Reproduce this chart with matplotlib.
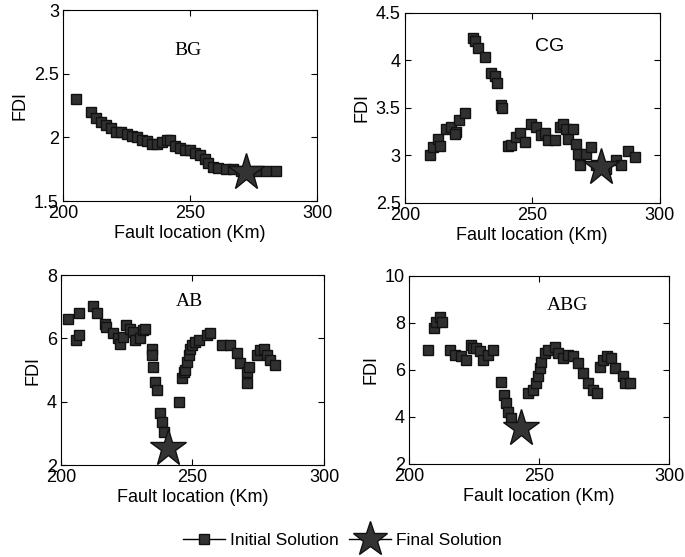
import matplotlib.pyplot as plt
from matplotlib.lines import Line2D

# BG fault
bg_x = [205, 211, 213, 215, 217, 219, 221, 223, 225, 227, 229, 231, 233, 235, 237,
        239, 241, 242, 244, 246, 248, 250, 252, 254, 256, 257, 259, 261, 264, 267,
        270, 273, 276, 280, 284]
bg_y = [2.30, 2.20, 2.15, 2.12, 2.10, 2.07, 2.04, 2.04, 2.03, 2.01, 2.00, 1.98, 1.97,
        1.95, 1.95, 1.96, 1.98, 1.98, 1.93, 1.92, 1.90, 1.90, 1.88, 1.86, 1.83, 1.80,
        1.77, 1.76, 1.75, 1.75, 1.74, 1.73, 1.74, 1.74, 1.74]
bg_star = (272, 1.73)

# CG fault
cg_x = [209.8, 211, 213, 213.7, 216.3, 218.3, 220, 221.4, 223.5, 219.6,
        226.8, 227.5, 228.8, 231.4, 234, 235.3, 236.2, 237.9, 238.2,
        240.5, 241.8, 243.8, 245, 247, 249.7, 251.6, 253.6, 254.9, 256.2, 258.8,
        260.8, 262.1, 263.4, 264, 266, 267.3, 268, 268.6, 271.2, 273, 275, 279.1,
        283, 285, 287.6, 290.2]
cg_y = [3.00, 3.09, 3.17, 3.10, 3.28, 3.30, 3.25, 3.37, 3.44, 3.22,
        4.24, 4.20, 4.13, 4.03, 3.87, 3.83, 3.76, 3.53, 3.50,
        3.10, 3.11, 3.19, 3.23, 3.14, 3.33, 3.30, 3.21, 3.23, 3.16, 3.16,
        3.30, 3.33, 3.28, 3.17, 3.28, 3.12, 3.01, 2.90, 3.01, 3.09, 2.90, 2.86,
        2.95, 2.90, 3.04, 2.98]
cg_star = (277.1, 2.88)

# AB fault
ab_x = [202.8, 206.9, 205.8, 207, 212.3, 213.6, 216.7, 217.3, 219.9, 221.8, 222.4,
        223.7, 224.9, 226.2, 227.5, 228, 230, 231.3, 231.9, 234.5, 234.5, 235.1,
        235.7, 236.4, 237.6, 238.3, 239.2, 244.7, 246, 246.6, 247.3, 247.9, 248.6,
        249.2, 249.8, 251.1, 252.4, 255.4, 256.7, 261.1, 264.4, 266.8, 268.1, 270.6,
        270.6, 271.3, 274.4, 275.7, 277, 278.3, 279.5, 281.4]
ab_y = [6.63, 6.79, 5.95, 6.10, 7.02, 6.79, 6.47, 6.37, 6.16, 6.00, 5.84,
        6.05, 6.42, 6.30, 6.20, 5.95, 6.00, 6.26, 6.30, 5.68, 5.47, 5.10,
        4.63, 4.37, 3.63, 3.37, 3.05, 4.00, 4.74, 4.95, 5.00, 5.26, 5.47,
        5.68, 5.79, 5.90, 5.95, 6.10, 6.16, 5.79, 5.79, 5.53, 5.21, 4.95,
        4.58, 5.10, 5.47, 5.63, 5.68, 5.47, 5.31, 5.16]
ab_star = (240.8, 2.53)

# ABG fault
abg_x = [207.3, 209.5, 210.5, 211.8, 212.8, 215.6, 217.6, 220.1, 222, 224, 224.6,
         225.9, 227.2, 228.5, 230.4, 232.3, 235.5, 236.7, 237.4, 238, 239.3, 245.8,
         247.7, 249, 249.6, 250.3, 250.9, 252.2, 253.5, 256, 257.4, 259.2, 261.2,
         263.1, 265, 267, 268.9, 270.8, 272.1, 273.3, 274.6, 275.9, 277.8, 279.1,
         282.3, 282.9, 284.9]
abg_y = [6.85, 7.77, 8.05, 8.26, 8.05, 6.85, 6.64, 6.57, 6.42, 7.06, 6.92,
         6.92, 6.78, 6.42, 6.64, 6.85, 5.50, 4.94, 4.59, 4.23, 3.95, 5.00,
         5.15, 5.43, 5.72, 6.07, 6.35, 6.71, 6.85, 6.96, 6.71, 6.50, 6.64,
         6.57, 6.28, 5.86, 5.43, 5.15, 5.00, 6.14, 6.43, 6.57, 6.50, 6.07,
         5.72, 5.43, 5.43]
abg_star = (242.9, 3.53)

panels = [
    ('BG', bg_x, bg_y, bg_star, (1.5, 3), [1.5, 2, 2.5, 3], ['1.5', '2', '2.5', '3'],
     [0.092, 0.639, 0.371, 0.343], (0.49, 0.79), 'Liberation Serif'),
    ('CG', cg_x, cg_y, cg_star, (2.5, 4.5), [2.5, 3, 3.5, 4, 4.5], ['2.5', '3', '3.5', '4', '4.5'],
     [0.591, 0.636, 0.372, 0.341], (0.57, 0.82), 'Liberation Sans'),
    ('AB', ab_x, ab_y, ab_star, (2, 8), [2, 4, 6, 8], ['2', '4', '6', '8'],
     [0.089, 0.165, 0.384, 0.341], (0.49, 0.86), 'Liberation Serif'),
    ('ABG', abg_x, abg_y, abg_star, (2, 10), [2, 4, 6, 8, 10], ['2', '4', '6', '8', '10'],
     [0.597, 0.167, 0.380, 0.338], (0.61, 0.84), 'Liberation Serif'),
]

plt.rcParams['font.family'] = ['Liberation Sans', 'DejaVu Sans']

fig = plt.figure(figsize=(6.85, 5.57), dpi=100)

for name, xs, ys, star, ylim, yt, ytl, pos, tpos, tfont in panels:
    ax = fig.add_axes(pos)
    ax.plot(xs, ys, linestyle='none', marker='s', markersize=7.5,
            markerfacecolor='#303030', markeredgecolor='#111111', markeredgewidth=1)
    ax.plot([star[0]], [star[1]], linestyle='none', marker='*', markersize=28,
            markerfacecolor='#333333', markeredgecolor='#111111', markeredgewidth=1)
    ax.set_xlim(200, 300)
    ax.set_ylim(*ylim)
    ax.set_xticks([200, 250, 300])
    ax.set_yticks(yt)
    ax.set_yticklabels(ytl)
    ax.tick_params(direction='in', length=4, top=True, right=True, labelsize=13, pad=3)
    ax.set_xlabel('Fault location (Km)', fontsize=13, labelpad=2)
    ax.set_ylabel('FDI', fontsize=13)
    ax.text(tpos[0], tpos[1], name, transform=ax.transAxes, ha='center', va='center',
            fontsize=14, family=tfont)

handles = [
    Line2D([0], [0], color='black', lw=1, marker='s', markersize=7.5,
           markerfacecolor='#333333', markeredgecolor='#111111'),
    Line2D([0], [0], color='black', lw=1, marker='*', markersize=26,
           markerfacecolor='#333333', markeredgecolor='#111111'),
]
fig.legend(handles, ['Initial Solution', 'Final Solution'], loc='center',
           bbox_to_anchor=(0.5, 0.03), ncol=2, frameon=False, fontsize=12.5,
           handlelength=2.4, columnspacing=0.6, handletextpad=0.3)

fig.savefig('out.png', dpi=100)
